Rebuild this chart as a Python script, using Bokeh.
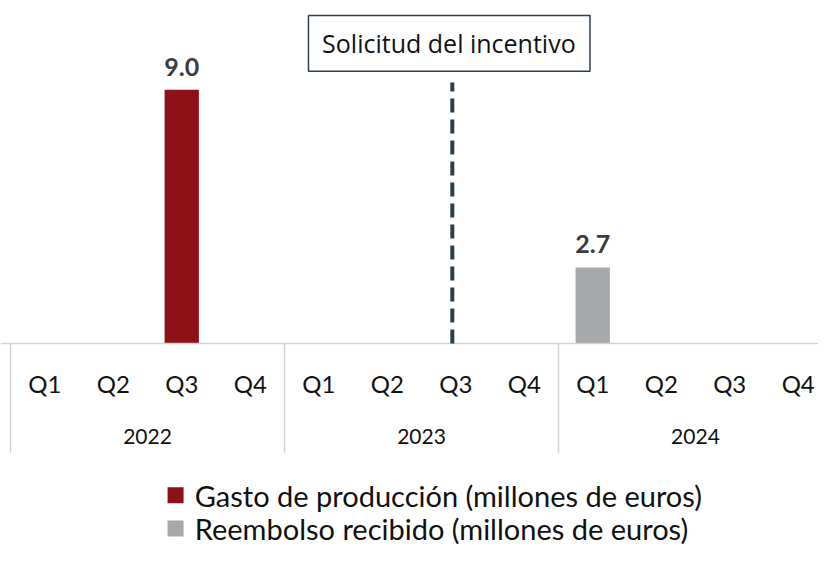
from bokeh.plotting import figure
from bokeh.models import ColumnDataSource, Range1d
from bokeh.core.properties import value
from bokeh.embed import file_html
from bokeh.resources import INLINE

years = ["2022", "2023", "2024"]
quarters = ["Q1", "Q2", "Q3", "Q4"]
gasto = [0, 0, 9.0, 0, 0, 0, 0, 0, 0, 0, 0, 0]
reembolso = [0, 0, 0, 0, 0, 0, 0, 0, 2.7, 0, 0, 0]
event_quarter = 6  # 2023 Q3 (0-based index)
event_label = "Solicitud del incentivo"
legend_labels = ["Gasto de producción (millones de euros)",
                 "Reembolso recibido (millones de euros)"]

RED = "#8c1015"
GRAY = "#a6a8ab"
SLATE = "#2c3e4e"
SEP = "#d2d2d2"
FONT = "Lato"

n = len(years) * len(quarters)
xc = [i + 0.5 for i in range(n)]
qlabels = [q for _ in years for q in quarters]

p = figure(width=818, height=549, output_backend="svg", toolbar_location=None,
           x_range=Range1d(-0.146, 11.796), y_range=Range1d(-7.30, 12.16),
           min_border=0)
p.axis.visible = False
p.grid.visible = False
p.outline_line_color = None

# bars
src_g = ColumnDataSource(dict(x=[x for x, v in zip(xc, gasto) if v > 0],
                              top=[v for v in gasto if v > 0]))
src_r = ColumnDataSource(dict(x=[x for x, v in zip(xc, reembolso) if v > 0],
                              top=[v for v in reembolso if v > 0]))
p.vbar(x="x", top="top", bottom=0, width=0.5, source=src_g, fill_color=RED, line_color=None)
p.vbar(x="x", top="top", bottom=0, width=0.5, source=src_r, fill_color=GRAY, line_color=None)

# value labels
vals_x = [x for x, v in zip(xc, gasto) if v > 0] + [x for x, v in zip(xc, reembolso) if v > 0]
vals_y = [v for v in gasto if v > 0] + [v for v in reembolso if v > 0]
p.text(x=vals_x, y=vals_y, text=[f"{v:.1f}" for v in vals_y], y_offset=-14,
       text_align="center", text_baseline="bottom", text_font=value(FONT),
       text_font_style="bold", text_font_size="25px", text_color="#3b3b3b")

# axis line and separators
p.segment(x0=[-0.146], y0=[0], x1=[n], y1=[0], line_color=SEP, line_width=1.5)
p.segment(x0=[0, 4, 8], y0=[0, 0, 0], x1=[0, 4, 8], y1=[-3.87, -3.87, -3.87],
          line_color=SEP, line_width=1.5)

# quarter labels
p.text(x=xc, y=[-1.42] * n, text=qlabels, text_align="center", text_baseline="middle",
       text_font=value(FONT), text_font_size="24px", text_color="#111111")
# year labels
p.text(x=[2, 6, 10], y=[-3.30] * 3, text=years, text_align="center", text_baseline="middle",
       text_font=value(FONT), text_font_size="21px", text_font_style="normal",
       text_color="#111111")

# event line and box
ex = xc[event_quarter] - 0.05
p.segment(x0=[ex], y0=[0], x1=[ex], y1=[9.25], line_color=SLATE, line_width=4,
          line_dash="14 7")
p.quad(left=[4.35], right=[8.46], bottom=[9.65], top=[11.63], fill_color="white",
       line_color=SLATE, line_width=1.5)
p.text(x=[6.40], y=[10.64], text=[event_label], text_align="center", text_baseline="middle",
       text_font=value("Open Sans"), text_font_size="25px", text_color="#111111")

# legend (drawn below the axis)
leg_y = [-5.38, -6.56]
p.scatter(x=[2.41, 2.41], y=leg_y, marker="square", size=16,
          fill_color=[RED, GRAY], line_color=None)
p.text(x=[2.69, 2.69], y=leg_y, text=legend_labels, text_align="left",
       text_baseline="middle", text_font=value(FONT), text_font_size="29px",
       text_color="#111111")

open("out.html", "w").write(file_html(p, INLINE))
